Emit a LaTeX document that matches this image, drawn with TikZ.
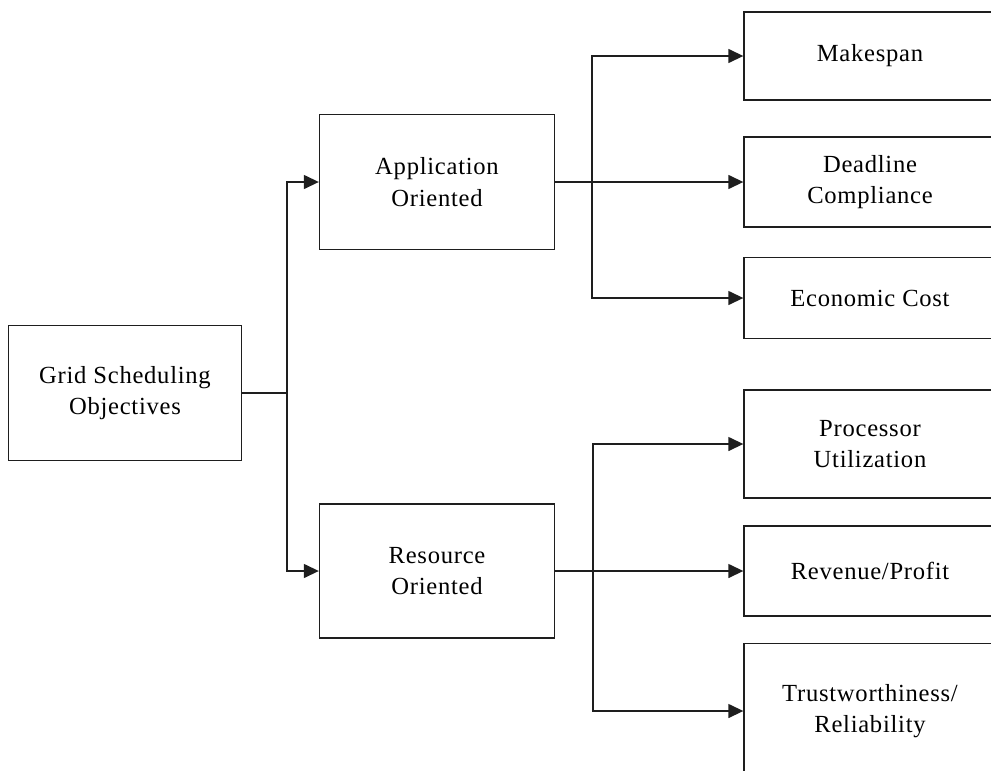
\documentclass[tikz,border=0pt]{standalone}
\usepackage{fontspec}
\setmainfont{Liberation Serif}[LetterSpace=3]
\usetikzlibrary{arrows.meta}
\definecolor{InkGray}{HTML}{1E1E1E}

\begin{document}
\begin{tikzpicture}[
    x=0.02cm,y=-0.02cm,
    box/.style={draw=InkGray,line width=0.8pt,minimum width=4.7cm,minimum height=2.7cm,align=center,font=\fontsize{14}{18}\selectfont},
    leaf/.style={box,minimum width=5.04cm},
    line/.style={line width=0.8pt,draw=InkGray},
    arr/.style={line,-{Triangle[length=3mm,width=2.8mm]}}
  ]
    \useasboundingbox (0,0) rectangle (991,771);
    \clip (0,0) rectangle (991,771);

    \node[box,minimum width=4.66cm] (grid) at (125,393) {Grid Scheduling\\Objectives};
    \node[box] (app) at (437,182) {Application\\Oriented};
    \node[box,minimum height=2.68cm] (res) at (437,571) {Resource\\Oriented};

    % application oriented objectives
    \node[leaf,minimum height=1.76cm] (make) at (870,56) {Makespan};
    \node[leaf,minimum height=1.8cm] (dead) at (870,182) {Deadline\\Compliance};
    \node[leaf,minimum height=1.62cm] (econ) at (870,298) {Economic Cost};

    % resource oriented objectives
    \node[leaf,minimum height=2.16cm] (proc) at (870,444) {Processor\\Utilization};
    \node[leaf,minimum height=1.8cm] (rev) at (870,571) {Revenue/Profit};
    \node[leaf,minimum height=2.7cm] (trust) at (870,711) {Trustworthiness/\\Reliability};

    \coordinate (gsplit) at (287,393);
    \coordinate (asplit) at (592,182);
    \coordinate (rsplit) at (593,571);

    \draw[line] (grid) -- (gsplit);
    \draw[arr] (gsplit) |- (app);
    \draw[arr] (gsplit) |- (res);

    \draw[line] (app) -- (asplit);
    \draw[arr] (asplit) |- (make);
    \draw[arr] (asplit) -- (dead);
    \draw[arr] (asplit) |- (econ);

    \draw[line] (res) -- (rsplit);
    \draw[arr] (rsplit) |- (proc);
    \draw[arr] (rsplit) -- (rev);
    \draw[arr] (rsplit) |- (trust);
\end{tikzpicture}
\end{document}
